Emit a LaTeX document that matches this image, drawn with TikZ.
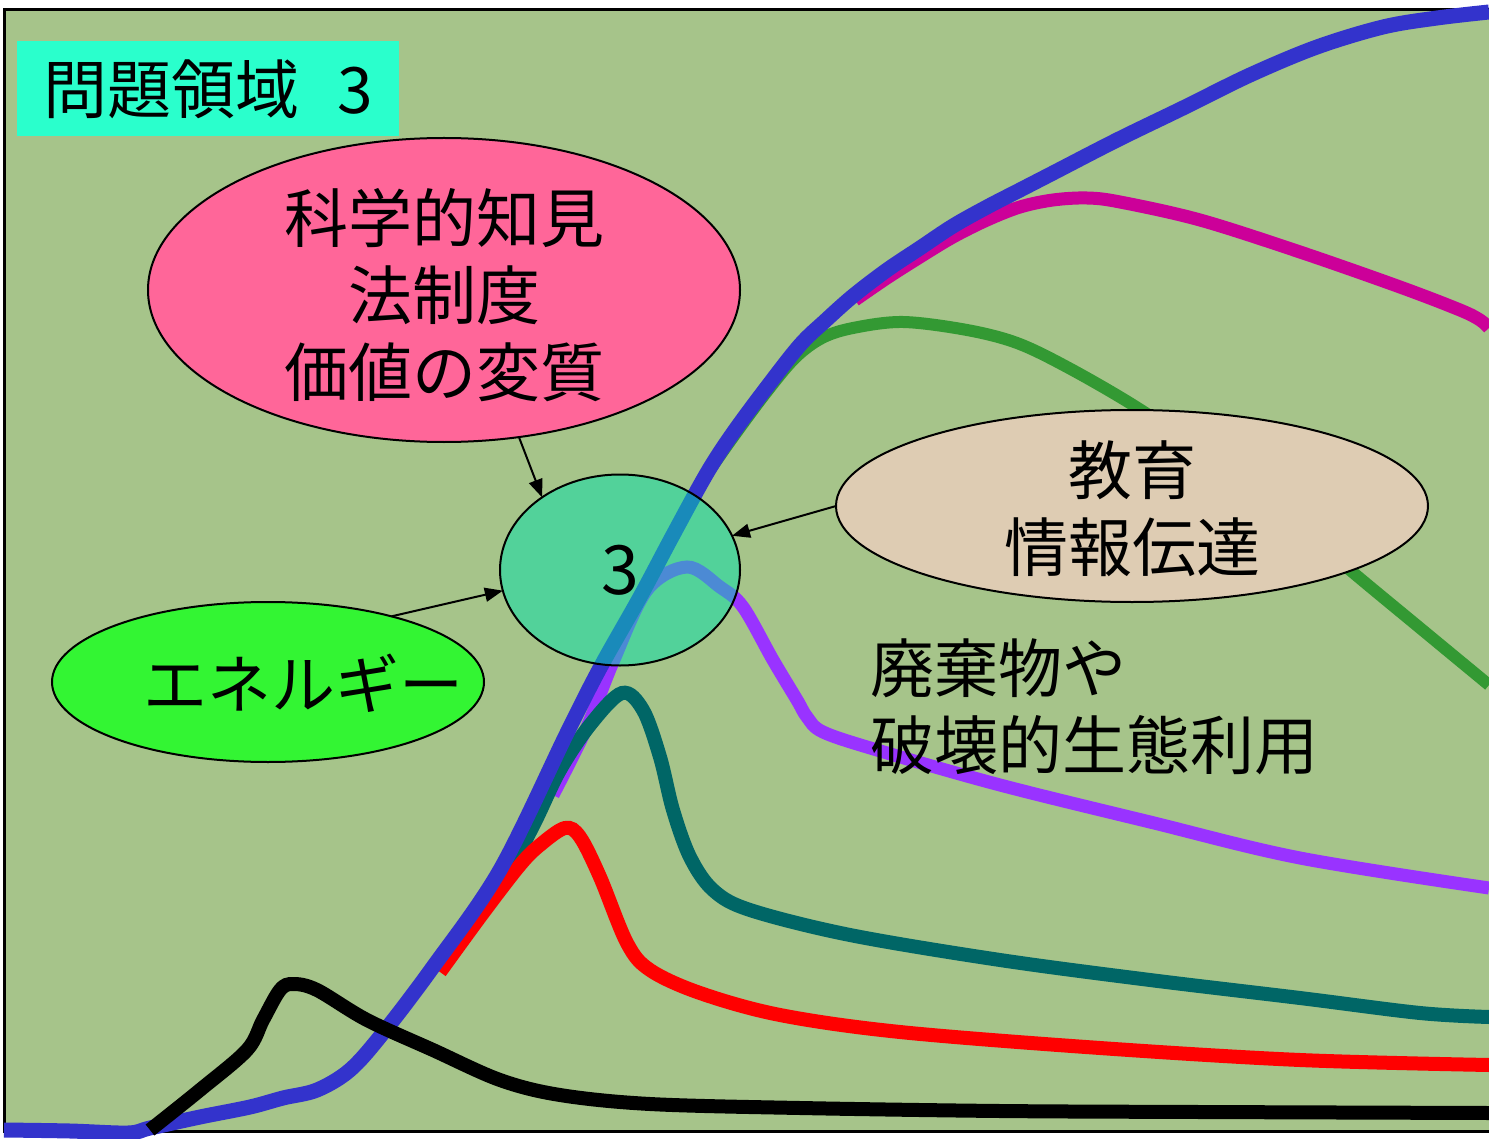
\documentclass[tikz,border=0pt]{standalone}
\usepackage{fontspec}
\setmainfont{Noto Sans CJK JP}
\usetikzlibrary{arrows.meta,
                shapes.geometric}
\definecolor{fieldgreen}{RGB}{166,196,138}
\definecolor{titlecyan}{RGB}{42,255,204}
\definecolor{knowpink}{RGB}{255,102,153}
\definecolor{energygreen}{RGB}{51,245,51}
\definecolor{hubgreen}{RGB}{0,225,170}
\definecolor{edubeige}{RGB}{222,204,179}
\definecolor{lineblue}{RGB}{51,51,204}
\definecolor{lineteal}{RGB}{0,102,102}
\definecolor{linepurple}{RGB}{153,51,255}
\definecolor{linegreen}{RGB}{51,153,51}
\definecolor{linemagenta}{RGB}{204,0,153}

\begin{document}
\begin{tikzpicture}[x=0.5pt, y=-0.5pt,
    blob/.style={ellipse, draw, line width=1pt, inner sep=0pt, outer sep=0pt},
    jtext/.style={font=\fontsize{32}{38.5}\selectfont, align=center, inner sep=0pt},
    link/.style={line width=1pt, -{Triangle[length=9pt,width=7pt]}},
    trend/.style={line width=7pt, smooth, tension=0.55}]
    \useasboundingbox (0,0) rectangle (1489,1139);
    \fill[white] (0,0) rectangle (1489,1139);
    \draw[line width=1.5pt, fill=fieldgreen] (4,10) rectangle (1500,1131);

    % curves
    \draw[trend, line width=6pt, linegreen] plot coordinates {(703,480) (731,440) (765,394) (795,358) (822,338) (853,328) (903,322) (967,330) (1017,343) (1067,367) (1133,405) (1200,450) (1280,510) (1350,570) (1420,628) (1489,685)};
    \draw[trend, line width=6.5pt, linemagenta] plot coordinates {(855,300) (887,278) (920,257) (953,237) (987,220) (1020,207) (1053,200) (1087,198) (1120,202) (1200,220) (1300,252) (1400,287) (1460,310) (1480,320) (1489,328)};
    \draw[trend, line width=6.5pt, linepurple] plot coordinates {(553,795) (587,727) (613,662) (647,590) (687,567) (720,587) (743,607) (773,660) (797,700) (807,717) (823,732) (877,750) (1000,785) (1150,822) (1300,858) (1489,888)};
    \draw[trend, lineteal] plot coordinates {(509,872) (535,822) (560,770) (590,725) (622,693) (643,710) (660,757) (673,810) (690,857) (713,890) (750,910) (850,935) (1000,960) (1150,980) (1300,998) (1420,1013) (1489,1017)};
    \draw[trend, red] plot coordinates {(440,972) (483,913) (520,865) (540,845) (565,828) (580,837) (600,877) (627,943) (650,970) (700,993) (780,1015) (900,1032) (1100,1048) (1300,1060) (1489,1065)};
    \draw[trend, line width=7.5pt, lineblue] plot coordinates {(4,1130) (70,1131) (128,1133) (150,1128) (200,1117) (250,1107) (283,1098) (317,1090) (350,1070) (383,1033) (433,967) (500,870) (567,733) (600,668) (640,597) (673,535) (707,473) (733,433) (767,387) (800,345) (825,321) (853,296) (887,270) (920,248) (953,226) (987,207) (1020,190) (1053,173) (1117,140) (1183,108) (1250,75) (1317,47) (1383,27) (1437,18) (1489,12)};
    \draw[trend, black] plot coordinates {(150,1130) (200,1090) (247,1050) (263,1020) (280,990) (293,984) (317,990) (367,1020) (433,1050) (500,1080) (560,1095) (650,1104) (800,1108) (1000,1111) (1200,1112) (1489,1113)};

    % title and bubbles
    \node[fill=titlecyan, minimum width=191pt, minimum height=47.5pt, inner sep=0pt,
          font=\fontsize{32}{38.5}\selectfont] (title) at (208,89) {問題領域\hspace{0.6em}3};
    \node[blob, fill=knowpink, minimum width=296pt, minimum height=152pt] (know) at (444,290) {};
    \node[blob, fill=energygreen, minimum width=216pt, minimum height=80pt] (energy) at (268,682) {};
    \node[blob, fill=edubeige, minimum width=296pt, minimum height=96pt] (edu) at (1132,506) {};
    \node[blob, fill=hubgreen, fill opacity=0.5, text opacity=1, minimum width=120pt, minimum height=95.5pt,
          font=\fontsize{34}{40}\selectfont] (hub) at (620,570) {3};

    \node[jtext] (knowtxt) at (444,295) {科学的知見\\法制度\\価値の変質};
    \node[jtext] (energytxt) at (303,683) {エネルギー};
    \node[jtext] (edutxt) at (1132,509) {教育\\情報伝達};
    \node[jtext, align=left, anchor=west] (wastetxt) at (870,707) {廃棄物や\\破壊的生態利用};

    % arrows into the hub
    \draw[link] (know.-63) -- (hub.137);
    \draw[link] (edu.180) -- (hub.17);
    \draw[link] (energy.28) -- (hub.190);
\end{tikzpicture}
\end{document}
